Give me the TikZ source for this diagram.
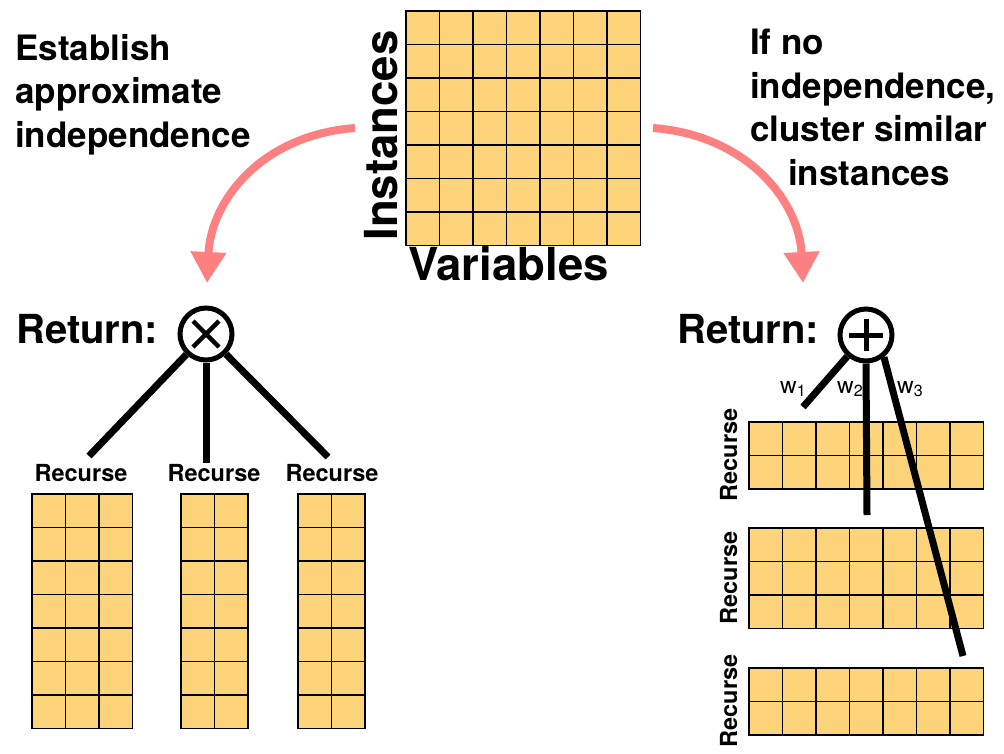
\documentclass[tikz,border=0pt]{standalone}
\usepackage{fontspec}
\setmainfont{TeX Gyre Heros}
\usetikzlibrary{arrows.meta}
\definecolor{cellfill}{RGB}{254,212,122}
\definecolor{arrowpink}{RGB}{255,128,128}
\begin{document}
\begin{tikzpicture}[x=1pt, y=-1pt,
	cell/.style={draw=black, line width=1.6pt, fill=cellfill},
	edge/.style={line width=7pt},
	op/.style={circle, draw=black, line width=5pt, minimum size=52pt, inner sep=0pt, fill=white},
	pinkarrow/.style={draw=arrowpink, line width=8pt, -{Triangle[length=31pt, width=34pt]}},
	sidetext/.style={font=\fontsize{35}{43.5}\selectfont\bfseries, inner sep=0pt, align=left, anchor=base west},
	axistext/.style={font=\fontsize{45.5}{50}\selectfont\bfseries, inner sep=0pt, anchor=base},
	returntext/.style={font=\fontsize{40}{44}\selectfont\bfseries, inner sep=0pt, anchor=base west},
	recursetext/.style={font=\fontsize{23.5}{25}\selectfont\bfseries, inner sep=0pt, anchor=base},
	weighttext/.style={font=\fontsize{23}{25}\selectfont, inner sep=0pt, anchor=base west}]
	\useasboundingbox (0,0) rectangle (1004,753);

	% Gitter: Ursprung/Spalten/Zeilen
	\foreach \gx/\gy/\nc/\nr in {406/11/7/7, 32/494/3/7, 181/494/2/7, 298/494/2/7,
		749/422/7/2, 749/528/7/3, 749/668/7/2}
		\foreach \i in {1,...,\nc}
			\foreach \j in {1,...,\nr}
				\filldraw[cell] ({\gx+(\i-1)*33.5}, {\gy+(\j-1)*33.5}) rectangle ++(33.5,33.5);

	% Achsen
	\node[axistext, rotate=90] (instances) at (397,135.5) {Instances};
	\node[axistext] (variables) at (508.5,280) {Variables};

	% Texte oben (Anker = Grundlinie der letzten Zeile)
	\node[sidetext] (establish) at (15,147) {Establish\\approximate\\independence};
	\node[sidetext] (cluster) at (750,185) {If no\\independence,\\cluster similar\\\hspace*{38pt}instances};

	% Pfeile
	\coordinate (arrLs) at (355,128);
	\coordinate (arrLe) at (207,283);
	\coordinate (arrRs) at (653,128);
	\coordinate (arrRe) at (803,283);
	\draw[pinkarrow] (arrLs) .. controls (262,135) and (211,200) .. (arrLe);
	\draw[pinkarrow] (arrRs) .. controls (746,135) and (799,200) .. (arrRe);

	% Produkt links
	\node[returntext] (retL) at (16,343) {Return:};
	\node[op] (mul) at (206,334) {};
	\draw[line width=4.5pt] ([shift={(-13,-13)}]mul.center) -- ([shift={(13,13)}]mul.center);
	\draw[line width=4.5pt] ([shift={(-13,13)}]mul.center) -- ([shift={(13,-13)}]mul.center);
	\coordinate (endA) at (89,456);
	\coordinate (endB) at (206,463);
	\coordinate (endC) at (328,457);
	\draw[edge] (mul) -- (endA);
	\draw[edge] (mul) -- (endB);
	\draw[edge] (mul) -- (endC);
	\node[recursetext] (recA) at (81,481) {Recurse};
	\node[recursetext] (recB) at (214,481) {Recurse};
	\node[recursetext] (recC) at (332,481) {Recurse};

	% Summe rechts
	\node[returntext] (retR) at (677,343) {Return:};
	\node[op] (add) at (866,335) {};
	\draw[line width=5pt] ([shift={(-17,0)}]add.center) -- ([shift={(17,0)}]add.center);
	\draw[line width=5pt] ([shift={(0,-16)}]add.center) -- ([shift={(0,16)}]add.center);
	\coordinate (wA) at (803,407);
	\coordinate (wB) at (867,515);
	\coordinate (wC) at (963,656);
	\draw[edge] (add) -- (wA);
	\draw[edge] (add.south) -- (wB);
	\draw[edge] (add.-51) -- (wC);
	\node[weighttext] (wlA) at (780,393) {w\textsubscript{1}};
	\node[weighttext] (wlB) at (837,393) {w\textsubscript{2}};
	\node[weighttext] (wlC) at (897,393) {w\textsubscript{3}};
	\node[recursetext, rotate=90] (recD) at (737,455) {Recurse};
	\node[recursetext, rotate=90] (recE) at (737,578) {Recurse};
	\node[recursetext, rotate=90] (recF) at (737,701) {Recurse};
\end{tikzpicture}
\end{document}
